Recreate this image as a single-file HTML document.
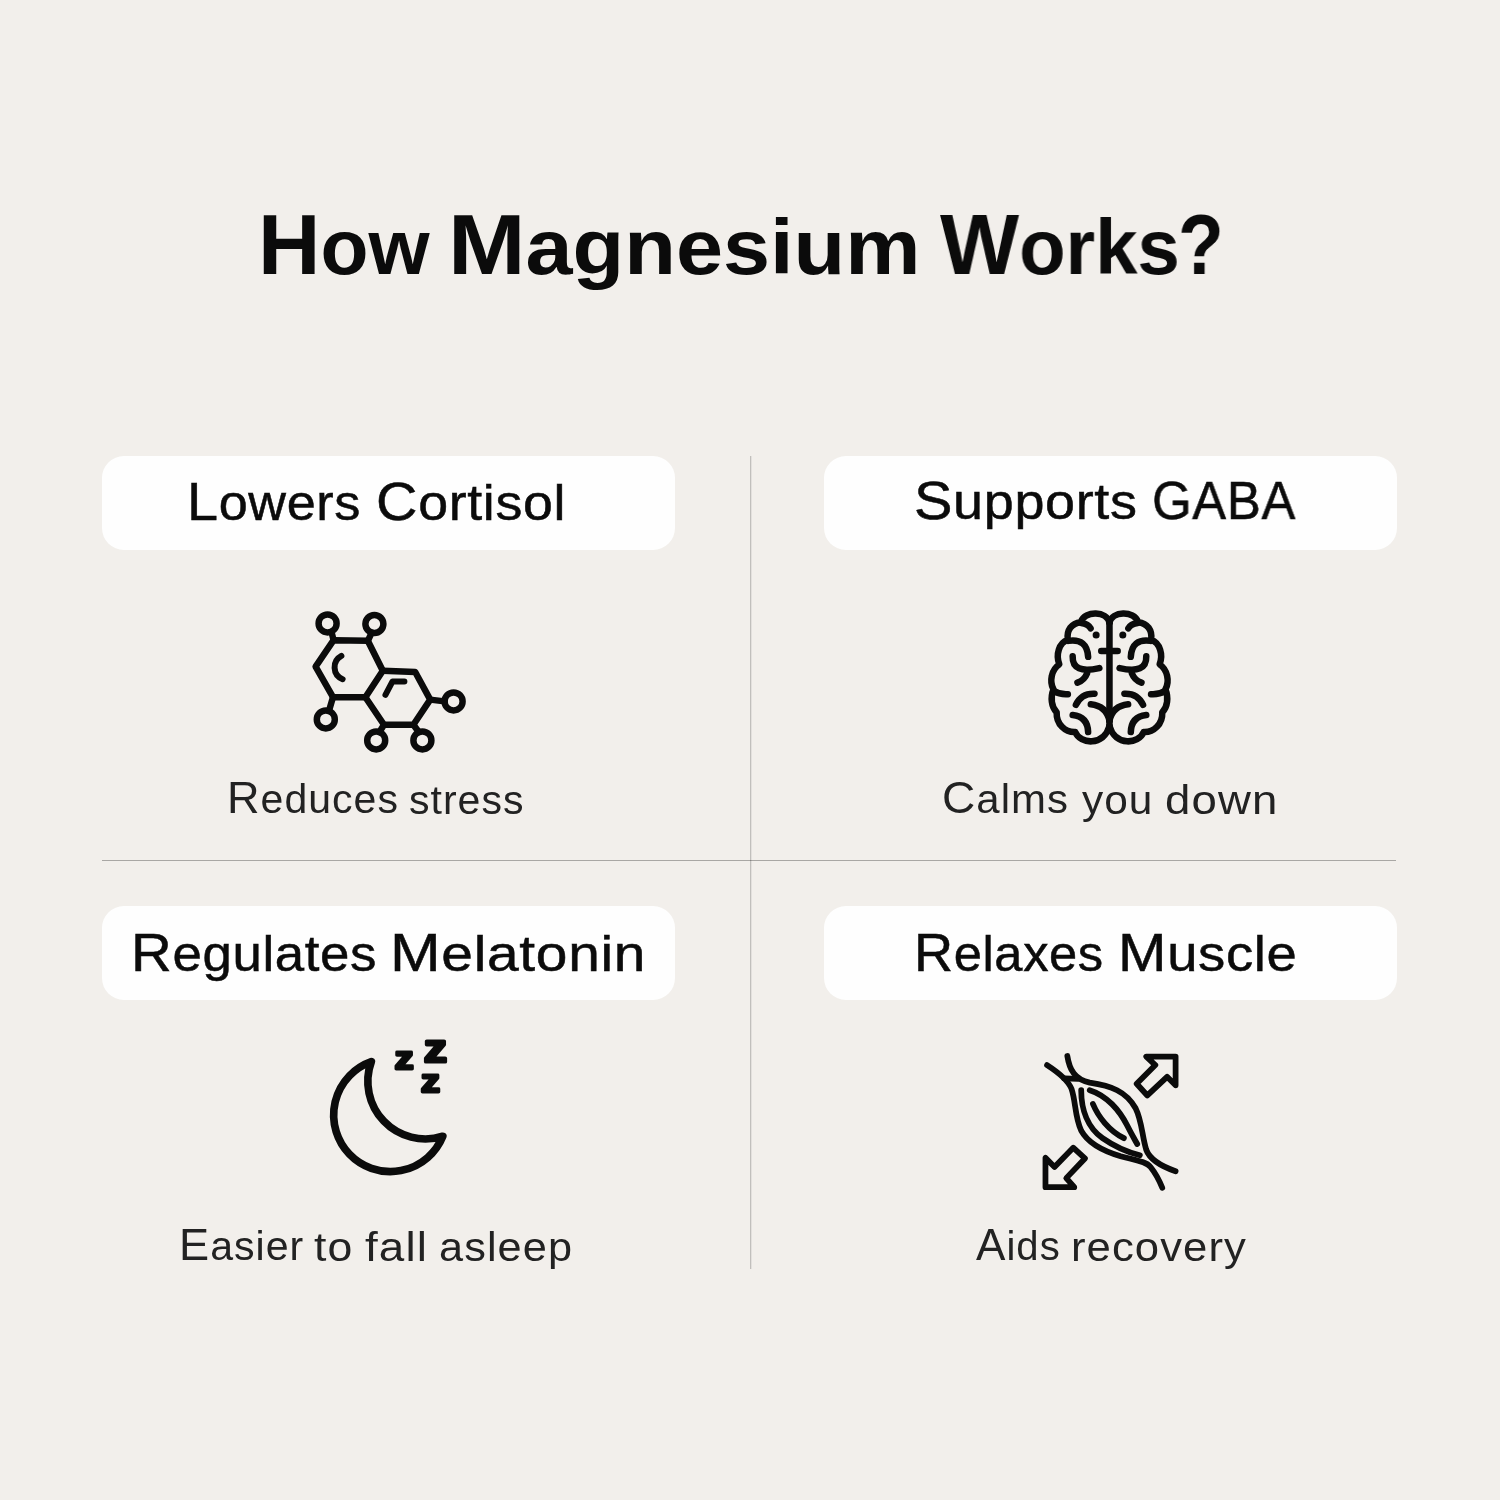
<!DOCTYPE html>
<html lang="en">
<head>
<meta charset="utf-8">
<title>How Magnesium Works?</title>
<style>
html,body{margin:0;padding:0;background:#f2efeb;}
body{width:1500px;height:1500px;overflow:hidden;background:#f2efeb;font-family:"Liberation Sans",Arial,Helvetica,sans-serif;color:#0b0b0b;}
.page{position:relative;width:1500px;height:1500px;overflow:hidden;background:#f2efeb;}
.t{position:absolute;white-space:nowrap;line-height:1;margin:0;padding:0;font-weight:400;height:1em;width:0;}
.t span{position:absolute;bottom:0;display:block;white-space:nowrap;transform-origin:0 100%;line-height:1;will-change:transform;}
.ttl{font-size:77.5px;letter-spacing:0.0px;font-weight:700;}
.ttl .c::first-letter,.ttl .u{font-size:1.1em;}
.pl{font-size:49.5px;letter-spacing:0.6px;-webkit-text-stroke:0.5px #0b0b0b;}
.pl .c::first-letter,.pl .u{font-size:1.07em;}
.sub{font-size:40px;letter-spacing:1.0px;color:#222;}
.sub .c::first-letter,.sub .u{font-size:1.1em;}
.pill{position:absolute;width:573px;height:94px;border-radius:22px;background:#fefefe;}
.vline{position:absolute;left:750px;top:456px;width:1px;height:813px;background:rgba(0,0,0,.2);box-shadow:1px 0 0 rgba(0,0,0,.06);}
.hline{position:absolute;left:102px;top:860px;width:1294px;height:1px;background:rgba(0,0,0,.3);}
svg.ic{position:absolute;overflow:visible;will-change:transform;}
</style>
</head>
<body>
<div class="page">
<div class="pill" style="left:102px;top:456px"></div>
<div class="pill" style="left:824px;top:456px"></div>
<div class="pill" style="left:102px;top:906px"></div>
<div class="pill" style="left:824px;top:906px"></div>
<div class="vline"></div>
<div class="hline"></div>
<h1 class="t ttl" id="title" aria-label="How Magnesium Works?" style="left:264.00px;top:209.70px"><span class="c" style="left:-6.08px;transform:scaleX(1.0141)">How</span> <span class="c" style="left:183.75px;transform:scaleX(1.0917)">Magnesium</span> <span class="c" style="left:676.00px;transform:scaleX(0.9822)">Works</span><span class="u" style="left:914.28px;transform:scaleX(0.8791)">?</span></h1>
<div class="t pl" id="p1" aria-label="Lowers Cortisol" style="left:191.60px;top:479.30px"><span class="c" style="left:-4.22px;transform:scaleX(1.0541)">Lowers</span> <span class="c" style="left:184.63px;transform:scaleX(1.0853)">Cortisol</span></div>
<div class="t pl" id="p2" aria-label="Supports GABA" style="left:916.50px;top:478.50px"><span class="c" style="left:-2.18px;transform:scaleX(1.0891)">Supports</span> <span class="u" style="left:235.58px;transform:scaleX(0.9619)">GABA</span></div>
<div class="t pl" id="p3" aria-label="Regulates Melatonin" style="left:135.10px;top:930.60px"><span class="c" style="left:-4.26px;transform:scaleX(1.0662)">Regulates</span> <span class="c" style="left:255.30px;transform:scaleX(1.1488)">Melatonin</span></div>
<div class="t pl" id="p4" aria-label="Relaxes Muscle" style="left:918.50px;top:930.60px"><span class="c" style="left:-4.09px;transform:scaleX(1.0229)">Relaxes</span> <span class="c" style="left:199.01px;transform:scaleX(1.0987)">Muscle</span></div>
<div class="t sub" id="s1" aria-label="Reduces stress" style="left:230.80px;top:780.00px"><span class="c" style="left:-4.10px;transform:scaleX(1.0248)">Reduces</span> <span style="left:178.45px;transform:scaleX(1.0250)">stress</span></div>
<div class="t sub" id="s2" aria-label="Calms you down" style="left:944.20px;top:780.00px"><span class="c" style="left:-2.10px;transform:scaleX(1.0479)">Calms</span> <span style="left:137.60px;transform:scaleX(1.0594)">you</span> <span style="left:220.92px;transform:scaleX(1.1383)">down</span></div>
<div class="t sub" id="s3" aria-label="Easier to fall asleep" style="left:183.30px;top:1226.60px"><span class="c" style="left:-4.10px;transform:scaleX(1.0259)">Easier</span> <span style="left:130.48px;transform:scaleX(1.1156)">to</span> <span style="left:181.56px;transform:scaleX(1.1440)">fall</span> <span style="left:255.94px;transform:scaleX(1.0824)">asleep</span></div>
<div class="t sub" id="s4" aria-label="Aids recovery" style="left:975.60px;top:1226.90px"><span class="c" style="left:0.00px;transform:scaleX(1.0024)">Aids</span> <span style="left:95.43px;transform:scaleX(1.0904)">recovery</span></div>
<!-- molecule -->
<svg class="ic" style="left:300px;top:600px" width="180" height="180" viewBox="0 0 1500 1500" fill="none" stroke="#0b0b0b" stroke-width="54" stroke-linecap="round" stroke-linejoin="round" aria-hidden="true">
<polygon points="280,335 565,340 690,590 545,810 275,810 130,555"/>
<polyline points="690,590 960,600 1085,830 945,1040 700,1040 545,810"/>
<circle cx="230" cy="195" r="75"/>
<circle cx="620" cy="200" r="75"/>
<circle cx="1280" cy="845" r="75"/>
<circle cx="215" cy="995" r="75"/>
<circle cx="635" cy="1170" r="75"/>
<circle cx="1020" cy="1170" r="75"/>
<path d="M262 265L280 335M598 272L565 340M1085 830L1205 845M275 810L242 922M700 1040L662 1100M945 1040L990 1100"/>
<path d="M345 465A108 108 0 0 0 355 660" stroke-width="50"/>
<path d="M870 680L770 680L712 790" stroke-width="50"/>
</svg>
<!-- brain -->
<svg class="ic" style="left:1030px;top:595px" width="160" height="160" viewBox="0 0 1500 1500" fill="none" stroke="#0b0b0b" stroke-width="61" stroke-linecap="round" stroke-linejoin="round" aria-hidden="true">
<g>
<path d="M745 260C720 150 520 140 475 255C390 265 340 330 355 420C270 450 240 560 275 650C200 700 180 810 220 885C190 960 200 1050 250 1100C245 1210 330 1290 425 1285C470 1400 690 1420 745 1230"/>
<path d="M480 262Q545 270 568 312"/>
<circle cx="620" cy="375" r="33" fill="#0b0b0b" stroke="none"/>
<path d="M360 430Q535 405 545 580"/>
<path d="M400 575Q395 745 650 685"/>
<path d="M535 735Q510 800 445 822"/>
<path d="M225 900Q280 935 355 930"/>
<path d="M430 1030Q480 920 605 925"/>
<path d="M570 1025Q715 1040 745 1180"/>
<path d="M400 1125Q540 1140 545 1285"/>
</g>
<g transform="translate(1490 0) scale(-1 1)">
<path d="M745 260C720 150 520 140 475 255C390 265 340 330 355 420C270 450 240 560 275 650C200 700 180 810 220 885C190 960 200 1050 250 1100C245 1210 330 1290 425 1285C470 1400 690 1420 745 1230"/>
<path d="M480 262Q545 270 568 312"/>
<circle cx="620" cy="375" r="33" fill="#0b0b0b" stroke="none"/>
<path d="M360 430Q535 405 545 580"/>
<path d="M400 575Q395 745 650 685"/>
<path d="M535 735Q510 800 445 822"/>
<path d="M225 900Q280 935 355 930"/>
<path d="M430 1030Q480 920 605 925"/>
<path d="M570 1025Q715 1040 745 1180"/>
<path d="M400 1125Q540 1140 545 1285"/>
</g>
<path d="M745 260L745 1240M668 525L822 525"/>
</svg>
<!-- moon -->
<svg class="ic" style="left:310px;top:1020px" width="160" height="160" viewBox="0 0 1500 1500" fill="none" stroke="#0b0b0b" stroke-width="72" stroke-linecap="round" stroke-linejoin="round" aria-hidden="true">
<path d="M575 390A531 531 0 1 0 1245 1090A540 540 0 0 1 575 390Z"/>
<g font-family="Liberation Sans, Arial, sans-serif" font-weight="700" fill="#0b0b0b" stroke="#0b0b0b" stroke-width="28" text-anchor="middle">
<text transform="translate(882 456) scale(1.17 1)" font-size="300">z</text>
<text transform="translate(1175 395) scale(1.2 1)" font-size="357" stroke-width="30">z</text>
<text transform="translate(1130 676) scale(1.18 1)" font-size="300">z</text>
</g>
</svg>
<!-- muscle -->
<svg class="ic" style="left:1030px;top:1040px" width="160" height="160" viewBox="0 0 1500 1500" fill="none" stroke="#0b0b0b" stroke-width="54" stroke-linecap="round" stroke-linejoin="round" aria-hidden="true">
<path d="M350 150C370 280 420 370 560 400C760 430 900 480 990 640C1050 760 1050 900 1090 1030C1120 1110 1220 1180 1365 1230"/>
<path d="M160 235C260 300 360 380 390 460C430 580 420 720 480 850C540 960 680 1040 850 1090C980 1125 1090 1140 1130 1190C1170 1240 1210 1310 1240 1385"/>
<path d="M320 360L450 365"/>
<path d="M480 470C480 650 540 820 680 920C780 990 900 1050 1030 1080"/>
<path d="M560 470C720 520 840 660 910 800C950 880 980 930 1005 975"/>
<path d="M590 600C640 720 740 850 880 920"/>
<polygon points="1090,155 1365,155 1365,425 1285,345 1100,520 1000,410 1175,235"/>
<polygon points="145,1105 145,1380 415,1380 340,1295 515,1110 405,1010 230,1190"/>
</svg>

</div>
</body>
</html>
